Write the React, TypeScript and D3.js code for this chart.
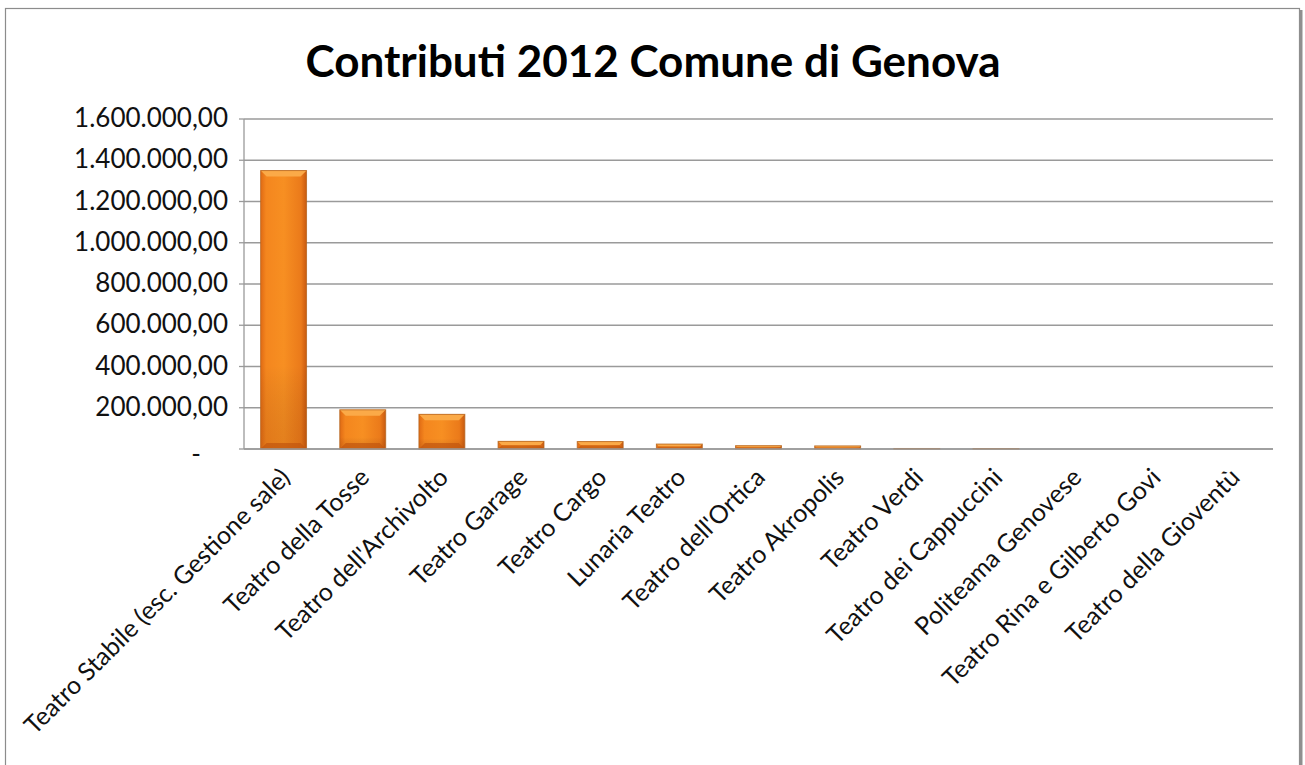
import React from "react";
import * as d3 from "d3";

const categories: string[] = [
  "Teatro Stabile (esc. Gestione sale)",
  "Teatro della Tosse",
  "Teatro dell'Archivolto",
  "Teatro Garage",
  "Teatro Cargo",
  "Lunaria Teatro",
  "Teatro dell'Ortica",
  "Teatro Akropolis",
  "Teatro Verdi",
  "Teatro dei Cappuccini",
  "Politeama Genovese",
  "Teatro Rina e Gilberto Govi",
  "Teatro della Gioventù",
];
const values: number[] = [
  1350000, 190000, 168000, 37000, 36000, 24000, 16000, 15000, 2500, 2000, 0, 0, 0,
];
const yTicks: number[] = [0, 200000, 400000, 600000, 800000, 1000000, 1200000, 1400000, 1600000];
const title = "Contributi 2012 Comune di Genova";

const W = 1305;
const H = 765;
const left = 244;
const right = 1273;
const top = 119;
const bottom = 449;

const fmt = (v: number) => {
  if (v === 0) return "-";
  const s = Math.round(v).toString().replace(/\B(?=(\d{3})+(?!\d))/g, ".");
  return s + ",00";
};

export default function App() {
  const x = d3.scaleBand<string>().domain(categories).range([left, right]).paddingInner(0.42).paddingOuter(0.21);
  const y = d3.scaleLinear().domain([0, 1600000]).range([bottom, top]);
  const bw = x.bandwidth();
  const font = "Lato, 'Open Sans', sans-serif";
  return (
    <svg width={W} height={H} style={{ position: "absolute", left: 0, top: 0 }}>
      <defs>
        <linearGradient id="barH" x1="0" x2="1" y1="0" y2="0">
          <stop offset="0" stopColor="#E06A14" />
          <stop offset="0.12" stopColor="#F4861E" />
          <stop offset="0.5" stopColor="#F78F22" />
          <stop offset="0.88" stopColor="#EB7A1A" />
          <stop offset="1" stopColor="#C85A10" />
        </linearGradient>
        <linearGradient id="barV" x1="0" x2="0" y1="0" y2="1">
          <stop offset="0" stopColor="#ffffff" stopOpacity="0" />
          <stop offset="0.7" stopColor="#000000" stopOpacity="0" />
          <stop offset="1" stopColor="#7a2a00" stopOpacity="0.15" />
        </linearGradient>
      </defs>
      <rect x={0} y={0} width={W} height={H} fill="#ffffff" />
      {/* frame */}
      <rect x={5.5} y={8.5} width={1294} height={H + 20} fill="#ffffff" stroke="#8c8c8c" strokeWidth={1.2} />
      <line x1={1301} x2={1301} y1={10} y2={H} stroke="#8f8f8f" strokeWidth={3} />
      <text x={653} y={77} textAnchor="middle" fontFamily={font} fontWeight={700} fontSize={44} fill="#000">
        {title}
      </text>
      {/* gridlines */}
      {yTicks.map((t) => (
        <line key={t} x1={left} x2={right} y1={y(t)} y2={y(t)} stroke="#9a9a9a" strokeWidth={1.3} />
      ))}
      <line x1={left} x2={left} y1={top} y2={bottom} stroke="#9a9a9a" strokeWidth={1.3} />
      {yTicks.map((t) => (
        <g key={"l" + t}>
          <line x1={left - 5} x2={left} y1={y(t)} y2={y(t)} stroke="#9a9a9a" strokeWidth={1.3} />
          <text
            x={t === 0 ? 201 : 228}
            y={t === 0 ? y(t) + 14 : y(t) + 8}
            textAnchor="end"
            fontFamily={font}
            fontSize={26}
            fill="#111"
          >
            {fmt(t)}
          </text>
        </g>
      ))}
      {/* bars */}
      {categories.map((c, i) => {
        const v = values[i];
        if (v <= 0) return null;
        const x0 = x(c)!;
        const y0 = y(v);
        const h = bottom - y0;
        const b = Math.min(6, h / 2, bw / 2);
        return (
          <g key={c}>
            <rect x={x0} y={y0} width={bw} height={h} fill="url(#barH)" />
            <rect x={x0} y={y0} width={bw} height={h} fill="url(#barV)" />
            <path
              d={`M${x0},${y0}L${x0 + bw},${y0}L${x0 + bw - b},${y0 + b}L${x0 + b},${y0 + b}Z`}
              fill="#FBAA48"
            />
            <path
              d={`M${x0},${y0 + h}L${x0 + bw},${y0 + h}L${x0 + bw - b},${y0 + h - b}L${x0 + b},${y0 + h - b}Z`}
              fill="#C2560E"
              opacity={0.7}
            />
            <rect x={x0} y={y0} width={bw} height={h} fill="none" stroke="#B5651F" strokeOpacity={0.8} strokeWidth={1} />
          </g>
        );
      })}
      <line x1={left} x2={right} y1={bottom} y2={bottom} stroke="#9a9a9a" strokeWidth={1.3} />
      {/* x labels */}
      {categories.map((c) => {
        const cx = x(c)! + bw / 2 + 8;
        const cy = bottom + 30;
        return (
          <text
            key={"x" + c}
            transform={`translate(${cx},${cy}) rotate(-45)`}
            textAnchor="end"
            fontFamily={font}
            fontSize={25}
            fill="#111"
          >
            {c}
          </text>
        );
      })}
    </svg>
  );
}
